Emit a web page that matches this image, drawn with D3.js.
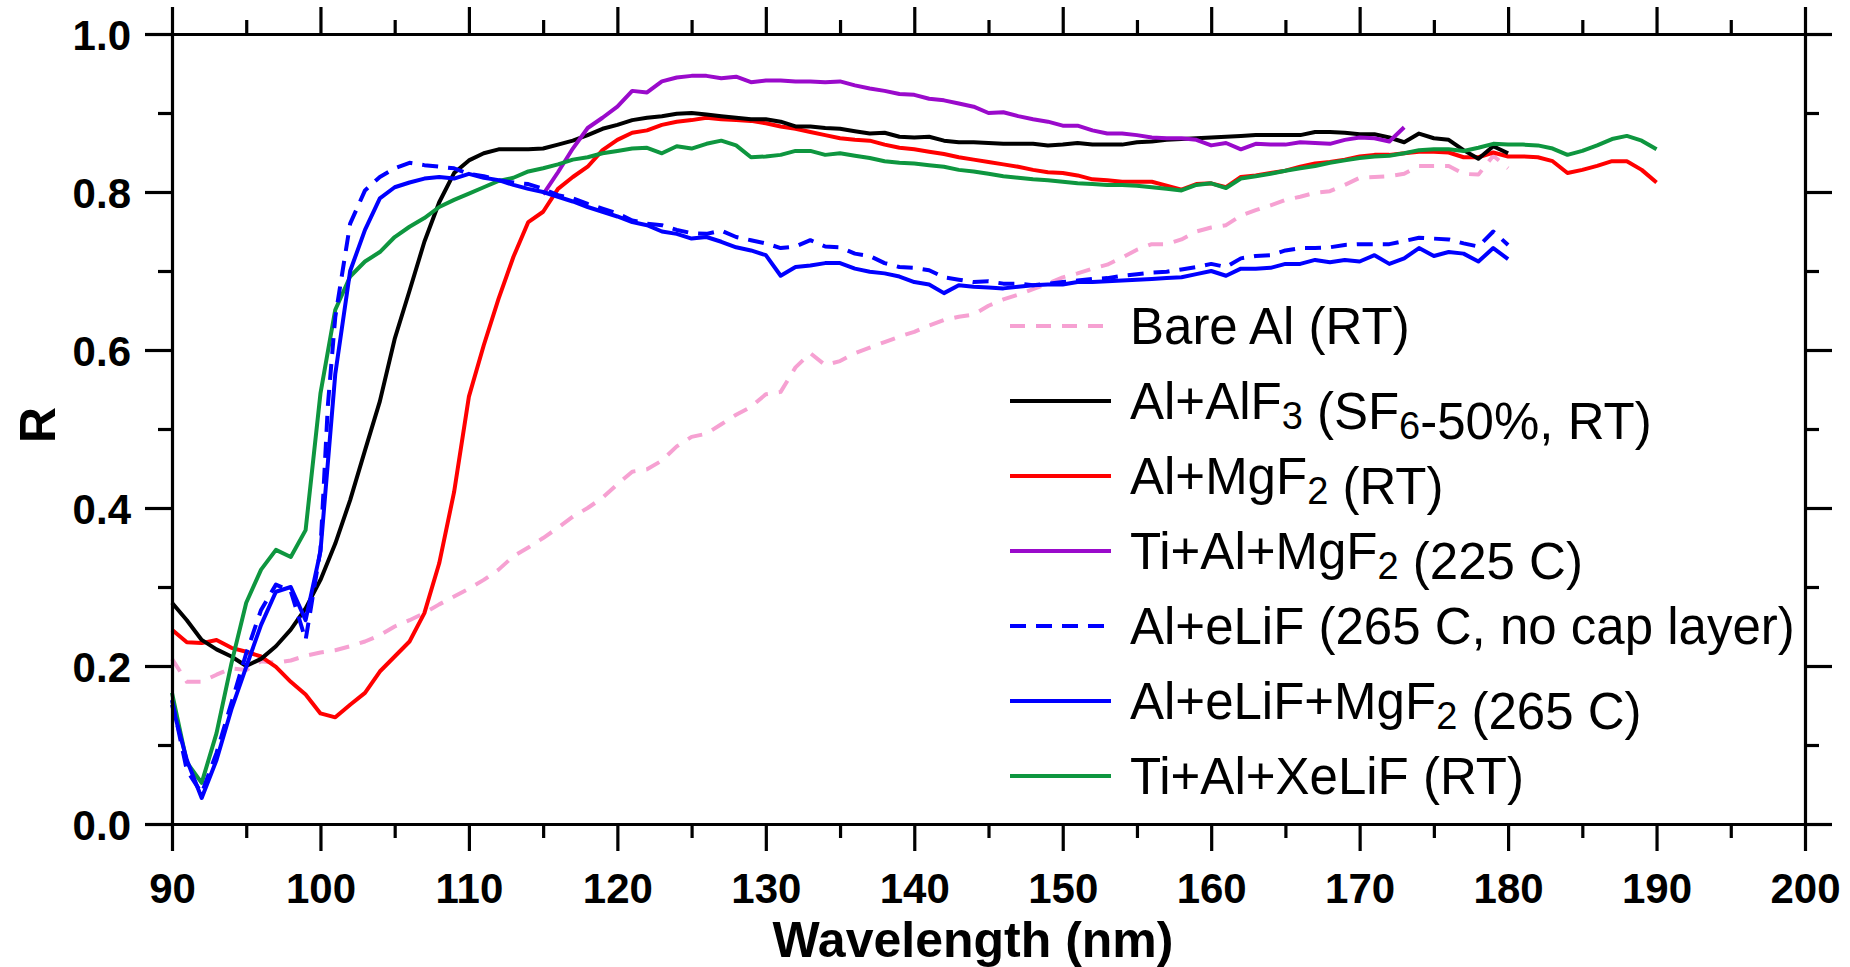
<!DOCTYPE html>
<html>
<head>
<meta charset="utf-8">
<script src="https://cdn.jsdelivr.net/npm/d3@7"></script>
<style>
  body { margin: 0; background: #fff; }
  svg { display: block; font-family: "Liberation Sans", Arial, sans-serif; }
</style>
</head>
<body>
<script>
// reflectance vs wavelength, [nm, R]
var bareAl = [[90,.209],[91,.180],[92,.180],[93,.189],[94,.197],[95,.195],[96,.206],[97,.204],[98,.207],[99,.213],
  [100,.217],[101,.220],[102,.225],[103,.231],[104,.239],[105,.250],[106,.258],[107,.267],[108,.278],[109,.288],
  [110,.298],[111,.309],[112,.322],[113,.339],[114,.350],[115,.362],[116,.375],[117,.389],[118,.400],[119,.413],
  [120,.430],[121,.446],[122,.449],[123,.460],[124,.478],[125,.490],[126,.494],[127,.506],[128,.518],[129,.528],
  [130,.544],[131,.547],[132,.578],[133,.596],[134,.581],[135,.586],[136,.596],[137,.603],[138,.610],[139,.617],
  [140,.623],[141,.631],[142,.638],[143,.642],[144,.645],[145,.656],[146,.664],[147,.670],[148,.677],[149,.684],
  [150,.692],[151,.697],[152,.703],[153,.708],[154,.717],[155,.727],[156,.734],[157,.734],[158,.740],[159,.750],
  [160,.755],[161,.758],[162,.770],[163,.777],[164,.783],[165,.790],[166,.794],[167,.799],[168,.801],[169,.809],
  [170,.818],[171,.819],[172,.820],[173,.823],[174,.833],[175,.833],[176,.833],[177,.823],[178,.822],[179,.846],[180,.830]];

var alAlF3 = [[90,.280],[91,.258],[92,.233],[93,.221],[94,.212],[95,.200],[96,.209],[97,.225],[98,.246],[99,.273],
  [100,.309],[101,.355],[102,.410],[103,.473],[104,.535],[105,.614],[106,.675],[107,.737],[108,.787],[109,.824],
  [110,.840],[111,.849],[112,.854],[113,.854],[114,.854],[115,.855],[116,.860],[117,.865],[118,.872],[119,.880],
  [120,.885],[121,.891],[122,.894],[123,.896],[124,.899],[125,.900],[126,.898],[127,.896],[128,.894],[129,.892],
  [130,.892],[131,.889],[132,.883],[133,.883],[134,.881],[135,.880],[136,.877],[137,.874],[138,.875],[139,.870],
  [140,.869],[141,.870],[142,.865],[143,.863],[144,.863],[145,.862],[146,.861],[147,.861],[148,.861],[149,.859],
  [150,.860],[151,.862],[152,.860],[153,.860],[154,.860],[155,.863],[156,.864],[157,.866],[158,.867],[159,.868],
  [160,.869],[161,.870],[162,.871],[163,.872],[164,.872],[165,.872],[166,.872],[167,.876],[168,.876],[169,.875],
  [170,.873],[171,.873],[172,.869],[173,.863],[174,.874],[175,.868],[176,.866],[177,.853],[178,.842],[179,.858],[180,.849]];

var alMgF2 = [[90,.246],[91,.230],[92,.229],[93,.233],[94,.223],[95,.218],[96,.212],[97,.199],[98,.180],[99,.164],
  [100,.140],[101,.135],[102,.151],[103,.166],[104,.193],[105,.212],[106,.231],[107,.267],[108,.330],[109,.420],
  [110,.541],[111,.606],[112,.665],[113,.718],[114,.762],[115,.775],[116,.804],[117,.819],[118,.832],[119,.853],
  [120,.866],[121,.875],[122,.878],[123,.885],[124,.889],[125,.891],[126,.894],[127,.892],[128,.891],[129,.890],
  [130,.887],[131,.883],[132,.880],[133,.876],[134,.872],[135,.868],[136,.866],[137,.865],[138,.860],[139,.856],
  [140,.854],[141,.851],[142,.848],[143,.844],[144,.841],[145,.838],[146,.835],[147,.832],[148,.828],[149,.825],
  [150,.824],[151,.821],[152,.816],[153,.815],[154,.813],[155,.813],[156,.813],[157,.808],[158,.803],[159,.810],
  [160,.811],[161,.806],[162,.819],[163,.821],[164,.824],[165,.827],[166,.832],[167,.836],[168,.838],[169,.841],
  [170,.845],[171,.847],[172,.847],[173,.849],[174,.851],[175,.851],[176,.850],[177,.844],[178,.844],[179,.850],
  [180,.845],[181,.845],[182,.844],[183,.839],[184,.824],[185,.828],[186,.833],[187,.839],[188,.839],[189,.828],[190,.812]];

var tiAlMgF2 = [[115,.797],[116,.825],[117,.855],[118,.881],[119,.894],
  [120,.908],[121,.928],[122,.926],[123,.940],[124,.945],[125,.947],[126,.947],[127,.944],[128,.946],[129,.939],
  [130,.941],[131,.941],[132,.940],[133,.940],[134,.939],[135,.940],[136,.935],[137,.931],[138,.928],[139,.924],
  [140,.923],[141,.918],[142,.916],[143,.912],[144,.908],[145,.900],[146,.901],[147,.896],[148,.892],[149,.889],
  [150,.884],[151,.884],[152,.878],[153,.874],[154,.874],[155,.872],[156,.869],[157,.868],[158,.868],[159,.866],
  [160,.859],[161,.862],[162,.854],[163,.861],[164,.860],[165,.860],[166,.863],[167,.862],[168,.861],[169,.866],
  [170,.869],[171,.868],[172,.864],[173,.882]];

var alELiF = [[90,.157],[91,.068],[92,.039],[93,.090],[94,.153],[95,.216],[96,.271],[97,.303],[98,.295],[99,.233],
  [100,.347],[100.5,.530],[101,.642],[102,.760],[103,.802],[104,.819],[105,.830],[106,.837],[107,.834],[108,.832],[109,.830],
  [110,.823],[111,.820],[112,.815],[113,.812],[114,.810],[115,.804],[116,.796],[117,.792],[118,.785],[119,.779],
  [120,.773],[121,.764],[122,.760],[123,.758],[124,.752],[125,.748],[126,.747],[127,.751],[128,.743],[129,.739],
  [130,.735],[131,.729],[132,.731],[133,.739],[134,.731],[135,.730],[136,.722],[137,.719],[138,.710],[139,.705],
  [140,.704],[141,.701],[142,.692],[143,.689],[144,.686],[145,.687],[146,.684],[147,.684],[148,.682],[149,.684],
  [150,.686],[151,.688],[152,.690],[153,.691],[154,.694],[155,.696],[156,.698],[157,.699],[158,.702],[159,.705],
  [160,.709],[161,.705],[162,.716],[163,.719],[164,.720],[165,.726],[166,.729],[167,.729],[168,.730],[169,.733],
  [170,.734],[171,.734],[172,.734],[173,.738],[174,.742],[175,.741],[176,.740],[177,.735],[178,.731],[179,.750],[180,.733]];

var alELiFMgF2 = [[90,.151],[91,.081],[92,.033],[93,.081],[94,.145],[95,.199],[96,.252],[97,.294],[98,.300],[99,.258],
  [100,.345],[101,.570],[102,.700],[103,.752],[104,.792],[105,.806],[106,.812],[107,.817],[108,.819],[109,.817],
  [110,.823],[111,.818],[112,.815],[113,.809],[114,.804],[115,.800],[116,.794],[117,.788],[118,.781],[119,.775],
  [120,.769],[121,.762],[122,.758],[123,.750],[124,.747],[125,.741],[126,.743],[127,.737],[128,.730],[129,.726],
  [130,.720],[131,.694],[132,.705],[133,.707],[134,.710],[135,.710],[136,.703],[137,.699],[138,.697],[139,.693],
  [140,.686],[141,.683],[142,.672],[143,.682],[144,.680],[145,.679],[146,.678],[147,.680],[148,.682],[149,.683],
  [150,.683],[151,.686],[152,.686],[153,.687],[154,.688],[155,.689],[156,.690],[157,.691],[158,.692],[159,.696],
  [160,.700],[161,.694],[162,.703],[163,.703],[164,.704],[165,.709],[166,.709],[167,.714],[168,.711],[169,.714],
  [170,.712],[171,.720],[172,.709],[173,.716],[174,.729],[175,.719],[176,.724],[177,.722],[178,.712],[179,.729],[180,.715]];

var tiAlXeLiF = [[90,.166],[91,.078],[92,.052],[93,.115],[94,.203],[95,.280],[96,.322],[97,.347],[98,.338],[99,.372],
  [100,.545],[101,.651],[102,.693],[103,.712],[104,.724],[105,.743],[106,.756],[107,.767],[108,.781],[109,.790],
  [110,.798],[111,.806],[112,.814],[113,.818],[114,.826],[115,.830],[116,.835],[117,.841],[118,.844],[119,.849],
  [120,.852],[121,.855],[122,.856],[123,.849],[124,.858],[125,.855],[126,.861],[127,.865],[128,.859],[129,.844],
  [130,.845],[131,.847],[132,.852],[133,.852],[134,.847],[135,.849],[136,.846],[137,.843],[138,.839],[139,.837],
  [140,.836],[141,.834],[142,.832],[143,.828],[144,.826],[145,.823],[146,.820],[147,.818],[148,.816],[149,.815],
  [150,.813],[151,.811],[152,.810],[153,.809],[154,.809],[155,.808],[156,.806],[157,.804],[158,.802],[159,.809],
  [160,.811],[161,.805],[162,.817],[163,.820],[164,.823],[165,.827],[166,.830],[167,.833],[168,.837],[169,.840],
  [170,.843],[171,.845],[172,.846],[173,.849],[174,.853],[175,.854],[176,.854],[177,.852],[178,.856],[179,.861],
  [180,.860],[181,.860],[182,.859],[183,.855],[184,.847],[185,.852],[186,.859],[187,.867],[188,.871],[189,.865],[190,.854]];

var xMajor = [90, 100, 110, 120, 130, 140, 150, 160, 170, 180, 190, 200];
var xMinor = [95, 105, 115, 125, 135, 145, 155, 165, 175, 185, 195];
var yMajor = [0, 0.2, 0.4, 0.6, 0.8, 1.0];
var yMinor = [0.1, 0.3, 0.5, 0.7, 0.9];

// legend labels, _d marks a subscript digit
var labels = ["Bare Al (RT)", "Al+AlF_3 (SF_6-50%, RT)", "Al+MgF_2 (RT)", "Ti+Al+MgF_2 (225 C)",
  "Al+eLiF (265 C, no cap layer)", "Al+eLiF+MgF_2 (265 C)", "Ti+Al+XeLiF (RT)"];

var series = [
  { data: bareAl, color: "#f6a1d2", dash: "15,11" },
  { data: alAlF3, color: "#000000", dash: null },
  { data: alMgF2, color: "#ff0000", dash: null },
  { data: tiAlMgF2, color: "#9a0acb", dash: null },
  { data: alELiF, color: "#0000ff", dash: "16,10" },
  { data: alELiFMgF2, color: "#0000ff", dash: null },
  { data: tiAlXeLiF, color: "#0e963f", dash: null }
];

var W = 1850, H = 967;
var x = d3.scaleLinear().domain([90, 200]).range([172, 1805]);
var y = d3.scaleLinear().domain([0, 1]).range([824, 34]);

var svg = d3.select("body").append("svg")
  .attr("width", W).attr("height", H);

var line = d3.line()
  .x(function(d){ return x(d[0]); })
  .y(function(d){ return y(d[1]); });

// draw back to front so the later entries sit on top
var drawOrder = [0, 2, 1, 3, 6, 4, 5];
drawOrder.forEach(function(i){
  var s = series[i];
  svg.append("path")
    .datum(s.data)
    .attr("d", line)
    .attr("fill", "none")
    .attr("stroke", s.color)
    .attr("stroke-width", 4)
    .attr("stroke-linejoin", "round")
    .attr("stroke-dasharray", s.dash);
});

function styleAxis(g){
  g.selectAll("path, line").attr("stroke", "#000").attr("stroke-width", 3.2);
  g.select(".domain").attr("stroke-linecap", "square");
  g.selectAll("text")
    .attr("font-size", 42)
    .attr("font-weight", "bold")
    .attr("fill", "#000")
    .attr("font-family", "'Liberation Sans', Arial, sans-serif");
}

var fmt = d3.format(".1f");
var yBottom = y(0), yTop = y(1), xLeft = x(90), xRight = x(200);

// major ticks with labels
svg.append("g").attr("transform", "translate(0," + yBottom + ")")
  .call(d3.axisBottom(x).tickValues(xMajor).tickSize(27).tickSizeOuter(0).tickFormat(d3.format("d")))
  .call(styleAxis)
  .selectAll("text").attr("y", 79).attr("dy", 0);
svg.append("g").attr("transform", "translate(" + xLeft + ",0)")
  .call(d3.axisLeft(y).tickValues(yMajor).tickSize(27).tickSizeOuter(0).tickPadding(14).tickFormat(fmt))
  .call(styleAxis)
  .selectAll("text").attr("dy", "0.36em");
svg.append("g").attr("transform", "translate(0," + yTop + ")")
  .call(d3.axisTop(x).tickValues(xMajor).tickSize(27).tickSizeOuter(0).tickFormat(""))
  .call(styleAxis);
svg.append("g").attr("transform", "translate(" + xRight + ",0)")
  .call(d3.axisRight(y).tickValues(yMajor).tickSize(27).tickSizeOuter(0).tickFormat(""))
  .call(styleAxis);

// minor ticks
[[d3.axisBottom(x), yBottom], [d3.axisTop(x), yTop]].forEach(function(a){
  svg.append("g").attr("transform", "translate(0," + a[1] + ")")
    .call(a[0].tickValues(xMinor).tickSize(14).tickSizeOuter(0).tickFormat(""))
    .call(styleAxis).select(".domain").remove();
});
[[d3.axisLeft(y), xLeft], [d3.axisRight(y), xRight]].forEach(function(a){
  svg.append("g").attr("transform", "translate(" + a[1] + ",0)")
    .call(a[0].tickValues(yMinor).tickSize(14).tickSizeOuter(0).tickFormat(""))
    .call(styleAxis).select(".domain").remove();
});

// axis titles
svg.append("text")
  .attr("x", 973).attr("y", 957)
  .attr("text-anchor", "middle")
  .attr("font-size", 50).attr("font-weight", "bold")
  .text("Wavelength (nm)");
svg.append("text")
  .attr("transform", "translate(55," + ((yTop + yBottom) / 2 - 4) + ") rotate(-90)")
  .attr("text-anchor", "middle")
  .attr("font-size", 50).attr("font-weight", "bold")
  .text("R");

// legend
var legend = svg.append("g");
labels.forEach(function(lab, i){
  var s = series[i];
  var ly = 326 + i * 75;
  legend.append("line")
    .attr("x1", 1010).attr("x2", 1111)
    .attr("y1", ly).attr("y2", ly)
    .attr("stroke", s.color)
    .attr("stroke-width", 4)
    .attr("stroke-dasharray", s.dash);
  var t = legend.append("text")
    .attr("x", 1130).attr("y", ly + 18)
    .attr("font-size", 51);
  lab.split(/(_\d)/).forEach(function(part){
    if (!part) return;
    if (part[0] === "_") {
      t.append("tspan").attr("font-size", 38).attr("dy", 10).text(part.slice(1));
      t.append("tspan").attr("dy", -10).text("");
    } else {
      t.append("tspan").text(part);
    }
  });
});
</script>
</body>
</html>
